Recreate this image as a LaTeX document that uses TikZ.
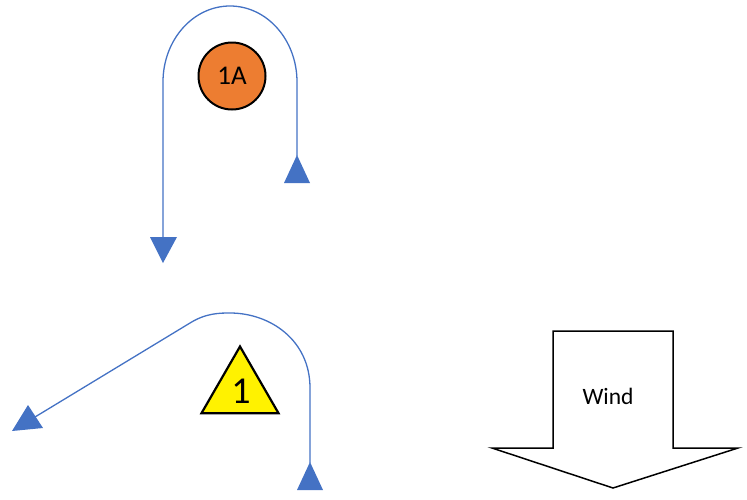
\documentclass[tikz,border=0pt]{standalone}
\usepackage{fontspec}
\setmainfont{Carlito}
\usetikzlibrary{shapes.geometric}
\definecolor{pathblue}{HTML}{4472C4}
\definecolor{markorange}{HTML}{ED7D31}
\tikzset{
  flight/.style={draw=pathblue, line width=1.3pt},
  tip/.style={fill=pathblue, draw=none},
  windarrow/.style={draw=black, line width=1.5pt, fill=white, line join=miter},
}
\begin{document}
\begin{tikzpicture}[x=1pt,y=-1pt]
\useasboundingbox (0,0) rectangle (747,499);
% top loop
\coordinate (a1) at (297,156);
\coordinate (a2) at (163,238);
\draw[flight] (a1) -- (297,82) .. controls (297,40) and (267,6) .. (230,6)
  .. controls (193,6) and (163,40) .. (163,82) -- (a2);
\fill[tip] (297,155) -- (310,183) -- (284,183) -- cycle;
\fill[tip] (150,237) -- (177,237) -- (163,263) -- cycle;
\node[circle, draw=black, line width=2pt, fill=markorange, minimum size=67pt, inner sep=0pt,
  font=\fontsize{27}{27}\selectfont] (c1A) at (232,76) {1A};
% bottom loop
\coordinate (b1) at (310,463);
\coordinate (b2) at (35,417);
\draw[flight] (b1) -- (310,388) .. controls (310,340) and (270,313) .. (230,313)
  .. controls (220,313) and (206,313) .. (190,323) -- (b2);
\fill[tip] (310,462) -- (323,490) -- (297,490) -- cycle;
\fill[tip] (28,405) -- (43,428) -- (12,431) -- cycle;
\node[regular polygon, regular polygon sides=3, draw=black, line width=2.2pt, fill=yellow,
  minimum size=89pt, inner sep=0pt] (t1) at (240,391) {};
\node[font=\fontsize{38}{38}\selectfont, inner sep=0pt] (t1lbl) at (241,391) {1};
% wind arrow
\draw[windarrow] (553,331) -- (673,331) -- (673,448) -- (738,448) -- (613,488)
  -- (492,448) -- (553,448) -- cycle;
\node[font=\fontsize{23.5}{23.5}\selectfont, inner sep=0pt] (wind) at (608,396) {Wind};
\end{tikzpicture}
\end{document}
